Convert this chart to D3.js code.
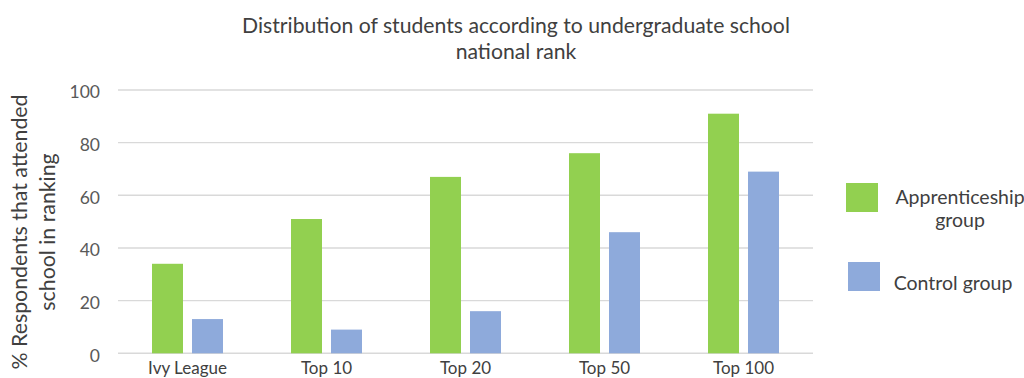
<!DOCTYPE html>
<html>
<head>
<meta charset="utf-8">
<script src="https://cdn.jsdelivr.net/npm/d3@7"></script>
<style>
  html, body { margin: 0; padding: 0; background: #fff; overflow: hidden; }
  svg { display: block; }
  text { font-family: Lato, "Open Sans", sans-serif; }
</style>
</head>
<body>
<svg id="chart" width="1024" height="378"></svg>
<script>
// Chart data
const categories = ["Ivy League", "Top 10", "Top 20", "Top 50", "Top 100"];
const apprenticeship = [34, 51, 67, 76, 91];
const control = [13, 9, 16, 46, 69];
const seriesNames = ["Apprenticeship group", "Control group"];
const yTicks = [0, 20, 40, 60, 80, 100];

const colors = ["#92d050", "#8eaadb"];
const FONT = "Lato, 'Open Sans', sans-serif";

const svg = d3.select("#chart");
const W = 1024, H = 378;
const margin = { left: 118, right: 211, top: 90, bottom: 25 };

// Category bands and the two bars inside each band
const x = d3.scaleBand().domain(categories).range([margin.left, W - margin.right]);
const inner = d3.scaleBand().domain([0, 1]).range([0, x.bandwidth()])
  .paddingInner(0.225).paddingOuter(0.85);
const y = d3.scaleLinear().domain([0, 100]).range([353.3, 90]);

// Gridlines
svg.append("g")
  .selectAll("line")
  .data(yTicks)
  .join("line")
  .attr("x1", margin.left).attr("x2", W - margin.right)
  .attr("y1", d => y(d)).attr("y2", d => y(d))
  .attr("stroke", "#d9d9d9").attr("stroke-width", 1.4);

// Y axis labels
const yAxis = d3.axisLeft(y).tickValues(yTicks).tickSize(0).tickPadding(18);
svg.append("g")
  .attr("transform", `translate(${margin.left},0)`)
  .call(yAxis)
  .call(g => g.select(".domain").remove())
  .call(g => g.selectAll("text")
    .attr("font-family", FONT)
    .attr("dy", "0.45em")
    .attr("font-size", 17.5).attr("fill", "#595959"));

// Bars
const data = categories.map((c, i) => ({ cat: c, vals: [apprenticeship[i], control[i]] }));
const groups = svg.append("g").selectAll("g").data(data).join("g")
  .attr("transform", d => `translate(${x(d.cat)},0)`);
groups.selectAll("rect")
  .data(d => d.vals.map((v, k) => ({ v, k })))
  .join("rect")
  .attr("x", d => inner(d.k))
  .attr("width", inner.bandwidth())
  .attr("y", d => y(d.v))
  .attr("height", d => y(0) - y(d.v))
  .attr("fill", d => colors[d.k]);

// X axis labels
const xAxis = d3.axisBottom(x).tickSize(0).tickPadding(8.5);
svg.append("g")
  .attr("transform", `translate(0,${y(0)})`)
  .call(xAxis)
  .call(g => g.select(".domain").remove())
  .call(g => g.selectAll("text")
    .attr("font-family", FONT)
    .attr("font-size", 17).attr("fill", "#404040"));

// Title
const title = svg.append("text")
  .attr("text-anchor", "middle")
  .attr("font-size", 21.2).attr("fill", "#404040");
title.append("tspan").attr("x", 516).attr("y", 33).text("Distribution of students according to undergraduate school");
title.append("tspan").attr("x", 516).attr("y", 59).text("national rank");

// Y axis title
const yt = svg.append("text")
  .attr("transform", "translate(0,232) rotate(-90)")
  .attr("text-anchor", "middle")
  .attr("font-size", 21.3).attr("fill", "#404040");
yt.append("tspan").attr("x", 0).attr("y", 27).text("% Respondents that attended");
yt.append("tspan").attr("x", 0).attr("y", 55).text("school in ranking");

// Legend
const legend = svg.append("g");
const legendItems = [
  { y: 183, sx: 846, lines: ["Apprenticeship", "group"], tx: 960, ty: 204 },
  { y: 262, sx: 848, lines: ["Control group"], tx: 953, ty: 290 }
];
legendItems.forEach((it, i) => {
  legend.append("rect")
    .attr("x", it.sx).attr("y", it.y)
    .attr("width", 32).attr("height", 29)
    .attr("fill", colors[i]);
  const t = legend.append("text")
    .attr("text-anchor", "middle")
    .attr("font-size", 19.5).attr("fill", "#404040");
  it.lines.forEach((ln, j) => {
    t.append("tspan").attr("x", it.tx).attr("y", it.ty + j * 23).text(ln);
  });
});
</script>
</body>
</html>
